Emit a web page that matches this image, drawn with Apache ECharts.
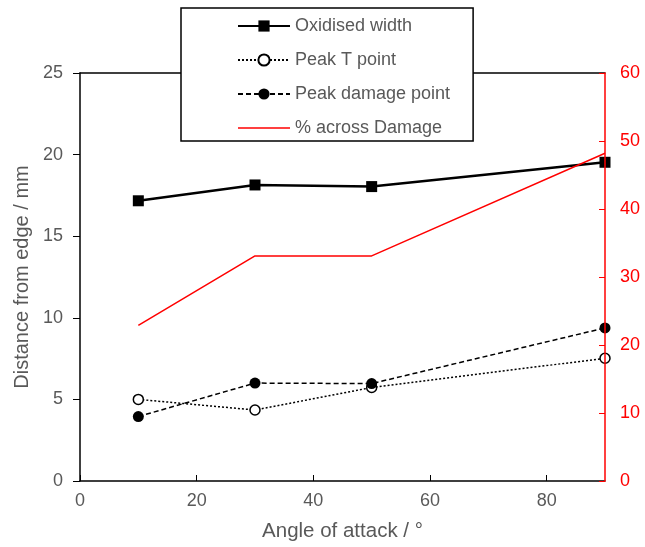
<!DOCTYPE html>
<html><head><meta charset="utf-8">
<script src="https://cdn.jsdelivr.net/npm/echarts@6/dist/echarts.min.js"></script>
<style>html,body{margin:0;padding:0;background:#fff}#c{width:645px;height:547px}</style>
</head><body><div id="c"></div>
<script>
const angles = [10, 30, 50, 90];
const oxidisedWidth = [17.17, 18.14, 18.04, 19.53];
const peakTPoint = [5.0, 4.35, 5.73, 7.52];
const peakDamagePoint = [3.95, 6.0, 5.97, 9.38];
const pctAcrossDamage = [22.9, 33.1, 33.1, 48.2];
const seriesNames = ['Oxidised width', 'Peak T point', 'Peak damage point', '% across Damage'];

const pair = arr => angles.map((a, i) => [a, arr[i]]);
const gray = '#595959';
const font = '"Liberation Sans", Arial, sans-serif';

const chart = echarts.init(document.getElementById('c'), null, {renderer: 'canvas'});
chart.setOption({
  animation: false,
  backgroundColor: '#fff',
  grid: {left: 80, right: 40, top: 73, bottom: 66, show: false},
  legend: {
    orient: 'vertical', left: 181, top: 8,
    padding: [9, 23, 4, 56],
    itemWidth: 52, itemHeight: 14, itemGap: 16,
    backgroundColor: '#fff', borderColor: '#000', borderWidth: 1.5,
    textStyle: {color: gray, fontSize: 18, fontFamily: font},
    data: [seriesNames[0], seriesNames[1], seriesNames[2],
      {name: seriesNames[3], icon: 'path://M0,0L52,0L52,1.6L0,1.6Z', itemStyle: {color: '#ff0000'}}]
  },
  xAxis: [{
    type: 'value', min: 0, max: 90, interval: 20,
    name: 'Angle of attack / °', nameLocation: 'middle', nameGap: 40,
    nameTextStyle: {color: gray, fontSize: 20.5, fontFamily: font},
    axisLine: {show: true, onZero: false, lineStyle: {color: '#000', width: 1.5}},
    axisTick: {show: true, inside: true, length: 6, lineStyle: {color: '#000', width: 1}},
    axisLabel: {color: gray, fontSize: 18, fontFamily: font, margin: 11, showMaxLabel: false},
    splitLine: {show: false}
  }, {
    type: 'value', min: 0, max: 90, position: 'top',
    axisLine: {show: true, onZero: false, lineStyle: {color: '#000', width: 1.5}},
    axisTick: {show: false}, axisLabel: {show: false}, splitLine: {show: false}
  }],
  yAxis: [{
    type: 'value', min: 0, max: 25, interval: 5, position: 'left',
    name: 'Distance from edge / mm', nameLocation: 'middle', nameGap: 48,
    nameTextStyle: {color: gray, fontSize: 20, fontFamily: font},
    axisLine: {show: true, onZero: false, lineStyle: {color: '#000', width: 1.5}},
    axisTick: {show: true, inside: false, length: 7, lineStyle: {color: '#000', width: 1}},
    axisLabel: {color: gray, fontSize: 18, fontFamily: font, margin: 17},
    splitLine: {show: false}
  }, {
    type: 'value', min: 0, max: 60, interval: 10, position: 'right',
    axisLine: {show: true, onZero: false, lineStyle: {color: '#ff0000', width: 1.5}},
    axisTick: {show: true, inside: true, length: 6, lineStyle: {color: '#ff0000', width: 1}},
    axisLabel: {color: '#ff0000', fontSize: 18, fontFamily: font, margin: 15},
    splitLine: {show: false}, z: 5
  }],
  series: [{
    name: seriesNames[0], type: 'line', data: pair(oxidisedWidth), yAxisIndex: 0,
    symbol: 'rect', symbolSize: 11,
    itemStyle: {color: '#000'},
    lineStyle: {color: '#000', width: 2.5}
  }, {
    name: seriesNames[1], type: 'line', data: pair(peakTPoint), yAxisIndex: 0,
    symbol: 'circle', symbolSize: 10,
    itemStyle: {color: '#fff', borderColor: '#000', borderWidth: 1.5},
    lineStyle: {color: '#000', width: 1.5, type: [2, 2]}
  }, {
    name: seriesNames[2], type: 'line', data: pair(peakDamagePoint), yAxisIndex: 0,
    symbol: 'circle', symbolSize: 11,
    itemStyle: {color: '#000'},
    lineStyle: {color: '#000', width: 1.5, type: [5, 3]}
  }, {
    name: seriesNames[3], type: 'line', data: pair(pctAcrossDamage), yAxisIndex: 1,
    symbol: 'none', showSymbol: false,
    itemStyle: {color: '#ff0000'},
    lineStyle: {color: '#ff0000', width: 1.5}
  }]
});
</script></body></html>
